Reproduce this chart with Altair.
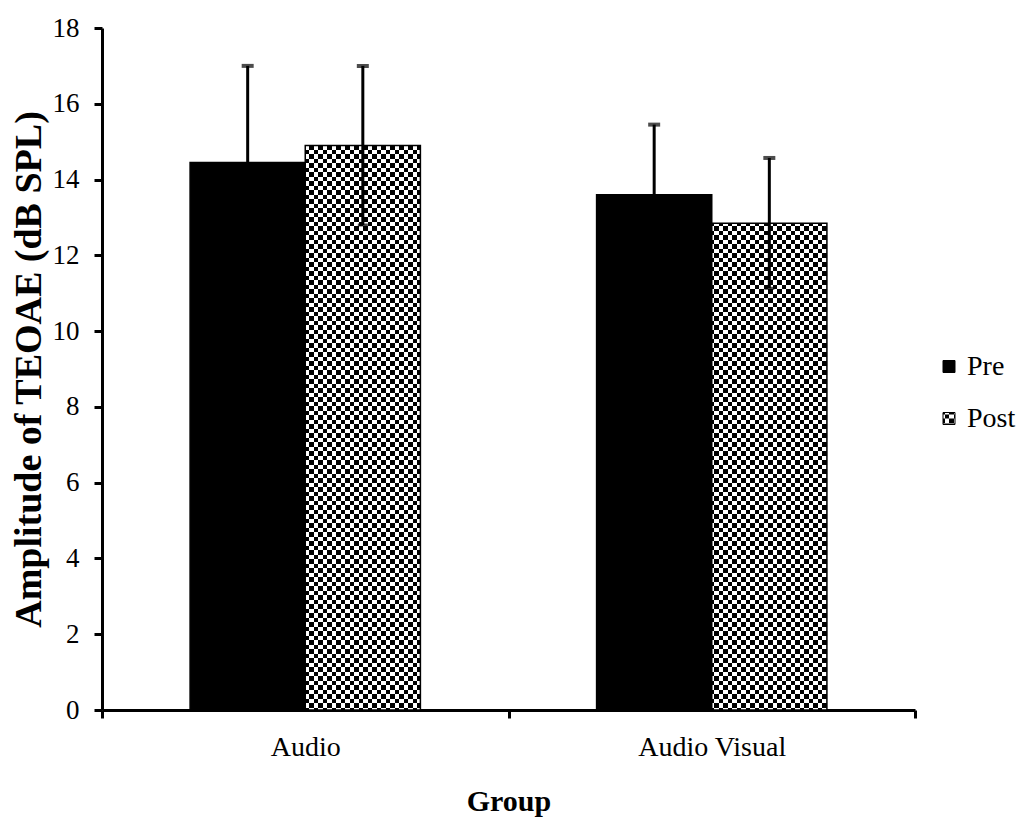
import altair as alt
import pandas as pd
from altair.utils.html import TEMPLATES

# ---- data ----
groups = ["Audio", "Audio Visual"]
series = ["Pre", "Post"]
pre_mean = [14.45, 13.6]
post_mean = [14.9, 12.85]
pre_err = [2.55, 1.85]
post_err = [2.1, 1.72]
y_ticks = [0, 2, 4, 6, 8, 10, 12, 14, 16, 18]

rows = []
for i, g in enumerate(groups):
    rows.append({"Group": g, "Series": "Pre", "Mean": pre_mean[i], "Err": pre_err[i]})
    rows.append({"Group": g, "Series": "Post", "Mean": post_mean[i], "Err": post_err[i]})
df = pd.DataFrame(rows)
df["Low"] = df["Mean"] - df["Err"]
df["High"] = df["Mean"] + df["Err"]

FONT = "Liberation Serif"
Y_TITLE = "Amplitude of TEOAE (dB SPL)"

x_enc = alt.X(
    "Group:N", sort=groups,
    scale=alt.Scale(paddingInner=0, paddingOuter=0),
    axis=alt.Axis(title="Group", tickBand="extent", labelAngle=0,
                  labelFontSize=28, labelPadding=15, titleFontSize=30,
                  titlePadding=25),
)
xo_enc = alt.XOffset("Series:N", sort=series,
                     scale=alt.Scale(paddingInner=0, paddingOuter=0.765))


def y_enc(field):
    return alt.Y(
        field, type="quantitative",
        scale=alt.Scale(domain=[0, 18], nice=False),
        axis=alt.Axis(title=Y_TITLE, values=y_ticks, grid=False,
                      labelFontSize=27, labelPadding=15, titleFontSize=38,
                      titlePadding=4),
    )


base = alt.Chart(df)

bars = base.mark_bar(stroke="black", strokeWidth=1.5).encode(
    x=x_enc,
    xOffset=xo_enc,
    y=y_enc("Mean"),
    color=alt.Color(
        "Series:N", sort=series,
        scale=alt.Scale(domain=series, range=["#000000", "url(#checker)"]),
        legend=alt.Legend(
            title=None, orient="none", legendX=833, legendY=324.5,
            symbolType="square", symbolSize=144, symbolStrokeColor="black",
            symbolStrokeWidth=1, labelFont=FONT,
            labelFontSize=28, labelColor="black", labelOffset=4,
            rowPadding=24, padding=0,
        ),
    ),
)

rules = base.mark_rule(color="black", strokeWidth=3).encode(
    x=x_enc, xOffset=xo_enc, y=y_enc("Low"), y2="High:Q"
)
caps_hi = base.mark_tick(color="black", thickness=4, size=12).encode(
    x=x_enc, xOffset=xo_enc, y=y_enc("High")
)
caps_lo = base.mark_tick(color="black", thickness=3, size=10).encode(
    x=x_enc, xOffset=xo_enc, y=y_enc("Low")
)

chart = (
    alt.layer(bars, rules, caps_lo, caps_hi)
    .properties(width=813, height=682,
                autosize=alt.AutoSizeParams(type="none"),
                padding={"left": 94, "top": 20, "right": 108, "bottom": 115})
    .configure_view(stroke=None)
    .configure_axis(
        domainColor="black", domainWidth=3, tickColor="black", tickWidth=3,
        tickSize=8, labelFont=FONT, labelColor="black", titleFont=FONT,
        titleColor="black", titleFontWeight="bold",
    )
)

# SVG pattern used for the checkered "Post" fill
DEFS = (
    '<svg width="0" height="0" style="position:absolute;left:0;top:0" aria-hidden="true">'
    '<defs><pattern id="checker" patternUnits="userSpaceOnUse" width="9" height="9">'
    '<rect width="9" height="9" fill="#ffffff" shape-rendering="crispEdges"/>'
    '<rect width="4.5" height="4.5" fill="#000000" shape-rendering="crispEdges"/>'
    '<rect x="4.5" y="4.5" width="4.5" height="4.5" fill="#000000" shape-rendering="crispEdges"/>'
    '</pattern></defs></svg>'
)
CSS = "<style>html,body{overflow:hidden}body{margin:8px 0 0 8px}</style>"


class PatternTemplate:
    def __init__(self, base_tpl):
        self.base_tpl = base_tpl

    def render(self, **kw):
        html = self.base_tpl.render(**kw)
        if "<body>" in html:
            html = html.replace("<body>", "<body>\n" + CSS + DEFS, 1)
        else:
            html = CSS + DEFS + html
        return html


chart.save("out.html", embed_options={"renderer": "svg", "actions": False},
           template=PatternTemplate(TEMPLATES["standard"]))
